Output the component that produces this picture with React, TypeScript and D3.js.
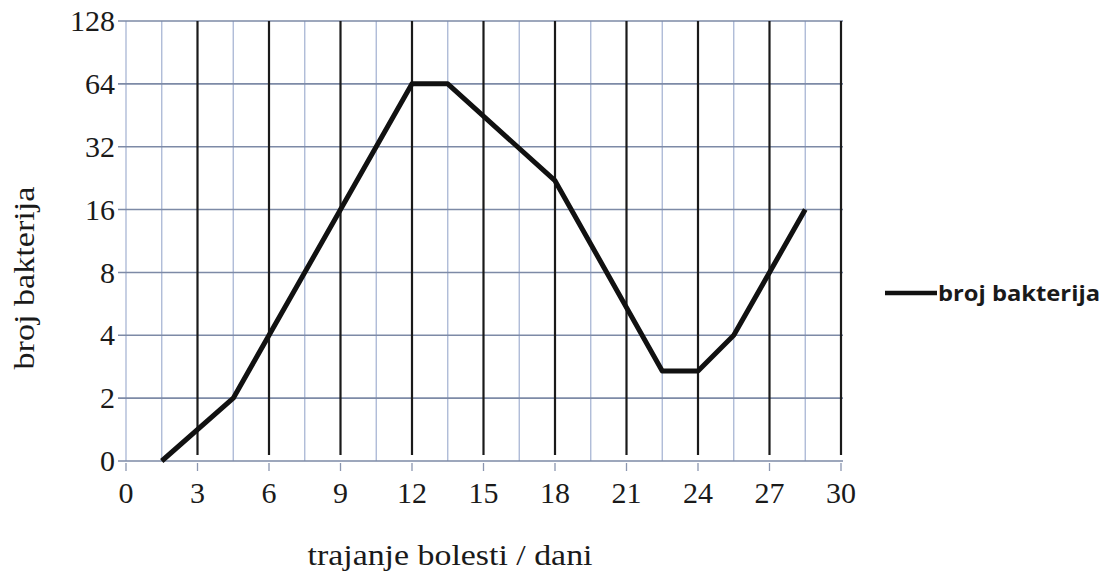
import * as d3 from "d3"

// x values (days) and bacteria counts
const days = [1.5, 4.5, 12, 13.5, 18, 22.5, 24, 25.5, 28.5]
const bacteria = [1, 2, 64, 64, 22, 2.7, 2.7, 4, 16]

const xTicks = [0, 3, 6, 9, 12, 15, 18, 21, 24, 27, 30]
const xMinor = [0, 1.5, 4.5, 7.5, 10.5, 13.5, 16.5, 19.5, 22.5, 25.5, 28.5]
const yTicks = [1, 2, 4, 8, 16, 32, 64, 128]
const yTickLabels = ["0", "2", "4", "8", "16", "32", "64", "128"]

const seriesName = "broj bakterija"
const xTitle = "trajanje bolesti / dani"
const yTitle = "broj bakterija"

const W = 1109
const H = 580
const margin = { left: 126, right: 268, top: 21, bottom: 119 }

export default function App() {
  const x = d3.scaleLinear().domain([0, 30]).range([margin.left, W - margin.right])
  const y = d3.scaleLog().base(2).domain([1, 128]).range([H - margin.bottom, margin.top])

  const line = d3
    .line<number>()
    .x((_, i) => x(days[i]))
    .y((d) => y(d))

  const serif = "Liberation Serif, Tinos, Times New Roman, DejaVu Serif, serif"
  const x0 = x(0)
  const x1 = x(30)
  const yBottom = y(1)
  const yTop = y(128)

  return (
    <svg
      width={W}
      height={H}
      style={{ position: "absolute", left: 0, top: 0, background: "#fff" }}
    >
      {/* thin vertical grid lines */}
      {xMinor.map((v) => (
        <line key={"mn" + v} x1={x(v)} x2={x(v)} y1={yTop} y2={yBottom} stroke="#a9b6d4" strokeWidth={1.3} />
      ))}

      {/* horizontal grid lines */}
      {yTicks.map((v) => (
        <line key={"h" + v} x1={x0 - 8} x2={x1 + 2} y1={y(v)} y2={y(v)} stroke="#7d8aa6" strokeWidth={1.6} />
      ))}

      {/* thick vertical grid lines */}
      {xTicks.slice(1).map((v) => (
        <line key={"mj" + v} x1={x(v)} x2={x(v)} y1={yTop} y2={yBottom - 6} stroke="#1a1a1a" strokeWidth={2.2} />
      ))}

      {/* x ticks below the axis */}
      {xTicks.map((v) => (
        <line key={"xt" + v} x1={x(v)} x2={x(v)} y1={yBottom + 2} y2={yBottom + 10} stroke="#8a96b0" strokeWidth={1.3} />
      ))}

      {/* x tick labels */}
      {xTicks.map((v) => (
        <text key={"xl" + v} x={x(v)} y={yBottom + 42} textAnchor="middle" fontFamily={serif} fontSize={30} fill="#1a1a1a">
          {v}
        </text>
      ))}

      {/* y tick labels */}
      {yTicks.map((v, i) => (
        <text key={"yl" + v} x={x0 - 11} y={y(v)} dy="0.34em" textAnchor="end" fontFamily={serif} fontSize={30} fill="#1a1a1a">
          {yTickLabels[i]}
        </text>
      ))}

      {/* data line */}
      <path d={line(bacteria) ?? ""} fill="none" stroke="#111" strokeWidth={5} strokeLinejoin="round" />

      {/* axis titles */}
      <text
        x={450}
        y={565}
        textAnchor="middle"
        fontFamily={serif}
        fontSize={30}
        textLength={285}
        lengthAdjust="spacingAndGlyphs"
        fill="#1a1a1a"
      >
        {xTitle}
      </text>
      <text
        transform={`translate(34, 278) rotate(-90)`}
        textAnchor="middle"
        fontFamily={serif}
        fontSize={30}
        textLength={183}
        lengthAdjust="spacingAndGlyphs"
        fill="#1a1a1a"
      >
        {yTitle}
      </text>

      {/* legend */}
      <line x1={885} x2={937} y1={293} y2={293} stroke="#111" strokeWidth={4.5} />
      <text
        x={938}
        y={301}
        fontFamily="Open Sans, Noto Sans, sans-serif"
        fontWeight="bold"
        fontSize={21}
        textLength={162}
        lengthAdjust="spacingAndGlyphs"
        fill="#1a1a1a"
      >
        {seriesName}
      </text>
    </svg>
  )
}
